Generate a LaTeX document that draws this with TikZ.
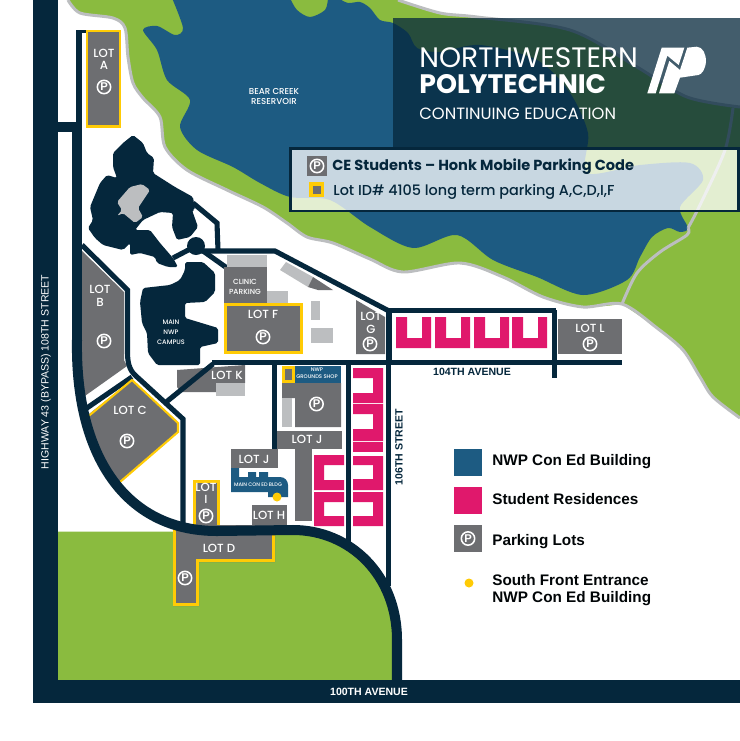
\documentclass[tikz,border=0pt]{standalone}
\usepackage{fontspec}
\setmainfont{Liberation Sans}
\newfontfamily\popfont{Poppins}
\newfontfamily\popmed{Poppins Medium}
\definecolor{navy}{HTML}{05273C}
\definecolor{lake}{HTML}{1D5B82}
\definecolor{grass}{HTML}{8ABB3F}
\definecolor{lotgrey}{HTML}{6D6E71}
\definecolor{pale}{HTML}{BCBEC0}
\definecolor{gold}{HTML}{FFCB05}
\definecolor{resi}{HTML}{E0186C}
\tikzset{
  lot/.style={fill=lotgrey},
  goldlot/.style={fill=lotgrey,draw=gold,line width=1.7pt},
  softlot/.style={fill=pale},
  shoreroad/.style={draw=pale,line width=1.7pt},
  mainroad/.style={draw=navy,line width=5.7pt},
  siteroad/.style={draw=navy,line width=2.9pt},
  hall/.style={fill=navy,rounded corners=1pt},
  lotlabel/.style={text=white,inner sep=0pt,align=center,font=\popmed\fontsize{6.7}{7}\selectfont},
  tinylabel/.style={text=white,inner sep=0pt,align=center,font=\popmed\fontsize{3.7}{5.6}\selectfont},
  streetlabel/.style={inner sep=0pt,font=\fontsize{6}{7}\selectfont},
  keylabel/.style={anchor=base west,inner sep=0pt,text=black!88!navy,font=\bfseries\fontsize{8.7}{10}\selectfont},
  parkmark/.style={circle,draw=white,line width=.9pt,text=white,minimum size=7.6pt,inner sep=0pt,font=\bfseries\fontsize{6.4}{6}\selectfont},
}
\begin{document}
\begin{tikzpicture}[x=0.02cm,y=-0.02cm]
      \useasboundingbox (0,0) rectangle (740,741);
      \fill[white] (0,0) rectangle (740,741);
      \fill[grass] plot[smooth] coordinates {(68,0) (80,13) (113,18) (125,28) (128,57) (133,83) (143,98) (160,117) (165,147) (187,170) (227,190) (263,207) (287,223) (307,237) (333,243) (370,259) (403,272) (460,263) (503,277) (543,297) (583,307) (622,304)} -- plot[smooth] coordinates {(622,304) (657,328) (683,350) (700,377) (713,397) (740,418)} -- (740,107) -- plot[smooth] coordinates {(740,107) (687,97) (637,67) (570,30) (477,17) (440,13) (398,0)} -- cycle;
      \fill[lake] plot[smooth] coordinates {(172,-2) (183,28) (175,35) (157,26) (143,30) (157,50) (167,80) (190,100) (180,127) (197,150) (233,167) (260,183) (290,197) (330,200) (370,227) (413,248) (457,235) (493,260) (537,277) (583,295) (627,280) (640,257) (652,237) (668,228) (680,232) (688,228) (680,207) (703,180) (690,163) (640,165) (587,173) (588,133) (570,93) (537,60) (480,45) (440,52) (417,48) (408,33) (393,23) (380,20) (370,8) (360,2) (348,3) (338,-2)} -- (328,-2) -- plot[smooth] coordinates {(328,-2) (325,10) (310,17) (297,10) (290,-2)} -- cycle;
      \draw[shoreroad] plot[smooth] coordinates {(68,0) (80,13) (113,18) (125,28) (128,57) (133,83) (143,98) (160,117) (165,147) (187,170) (227,190) (263,207) (287,223) (307,237) (333,243) (370,259) (403,272) (460,263) (503,277) (543,297) (583,307) (622,304) (657,328) (683,350) (700,377) (713,397) (740,418)};
      \draw[shoreroad] plot[smooth] coordinates {(622,304) (637,273) (660,252) (687,235) (688,228)};
      \draw[shoreroad] plot[smooth] coordinates {(688,228) (700,205) (725,150) (733,108)};
      \draw[shoreroad] plot[smooth] coordinates {(398,0) (440,13) (477,17) (570,30) (637,67) (687,97) (740,107)};
      \fill[grass] (58,531.5) -- (180,531.5) -- (293,531) .. controls (350,531) and (397,575) .. (397,640) -- (397,680) -- (58,680) -- cycle;
      \fill[navy] (33,0) rectangle (58,703);
      \fill[navy] (33,680) rectangle (740,703);
      \fill[navy] (58,122) rectangle (76,132);
      \fill[navy] (72,132) rectangle (82,345);
      \fill[navy] (76,31) rectangle (82,132);
      \fill[navy] (76,29.5) rectangle (88,33);
      \fill[lot] (82,251) -- (124,292) -- (124,360) -- (127,366) -- (82,398) -- cycle;
      \draw[siteroad] (82,245) -- (127.5,290) -- (127.5,352) .. controls (127.5,362) and (129,370) .. (136,376) -- (183,419) -- (183,526);
      \draw[siteroad] (84,410) -- (132,377);
      \draw[goldlot] (87,31) rectangle (120,126.5);
      \fill[lot] (84,418) -- (132,380) -- (178,423) -- (178,432) -- (119,483) -- (95,455) -- cycle;
      \draw[gold,line width=1.2pt] (85,419) -- (132,380) -- (178,423) -- (178,432) -- (120,482);
      \fill[lot] (177,370) -- (245,365) -- (245,383) -- (216,383) -- (216,392) -- (181,392) -- (177,387) -- cycle;
      \fill[softlot] (216,383) rectangle (245,396);
      \draw[siteroad] (165,403) -- (213,364);
      \draw[goldlot] (194.5,481.5) rectangle (218.5,528);
      \fill[lot] (173,525) -- (275,525) -- (275,562) -- (199,562) -- (199,606) -- (173,606) -- cycle;
      \draw[gold,line width=1.7pt] (174.5,525) -- (174.5,604.5) -- (197.5,604.5) -- (197.5,560.5) -- (273.5,560.5) -- (273.5,530);
      \fill[lot] (252,505) rectangle (287,527);
      \draw[mainroad] (77,340) .. controls (75,455) and (125,531) .. (217,531) -- (293,530) .. controls (350,530) and (397,575) .. (397,640) -- (397,682);
      \draw[siteroad] (212,362.5) -- (622,362.5);
      \draw[siteroad] (389,310.5) -- (389,362);
      \draw[siteroad] (387.5,310.5) -- (556,310.5);
      \draw[siteroad] (554.5,310) -- (554.5,378);
      \draw[siteroad] (274.5,362) -- (274.5,449);
      \draw[siteroad] (348.5,362) -- (348.5,545);
      \draw[siteroad] (388.5,362) -- (388.5,586);
      \draw[siteroad] (196,251) -- (275,251) -- (389,311);
      \draw[siteroad] (173,258) -- (196,246) -- (227,268);
      \draw[siteroad] (193,203) -- (217,223) -- (218,250);
      \fill[navy] (196,246) circle (9);
      \fill[hall] (133,135) -- (143,143) -- (147,153) -- (154,158) -- (153,173) -- (175,187) -- (193,197) -- (195,210) -- (192,210) -- (198,227) -- (190,237) -- (177,240) -- (172,227) -- (173,213) -- (160,212) -- (143,220) -- (135,230) -- (150,230) -- (160,243) -- (173,258) -- (178,267) -- (168,267) -- (157,263) -- (155,257) -- (140,253) -- (130,255) -- (130,243) -- (123,250) -- (103,245) -- (95,238) -- (88,228) -- (93,220) -- (90,207) -- (100,183) -- (107,175) -- (117,178) -- (113,167) -- (113,153) -- (123,143) -- cycle;
      \fill[pale,rounded corners=1pt] (117,202) -- (130,187) -- (142,184) -- (150,190) -- (138,208) -- (143,217) -- (135,223) -- (123,213) -- (117,216) -- (122,210) -- cycle;
      \fill[hall] (185,262) -- (203,262) -- (215,273) -- (215,292) -- (205,302) -- (185,303) -- (185,318) -- (218,328) -- (218,343) -- (200,347) -- (200,365) -- (157,365) -- (148,353) -- (147,333) -- (142,323) -- (140,302) -- (143,288) -- (170,285) -- (180,280) -- (185,270) -- cycle;
      \fill[softlot] (227,255) rectangle (267,267);
      \fill[lot] (224,267) rectangle (267,303);
      \fill[softlot] (267,291) rectangle (288,303);
      \fill[softlot] (311,301) rectangle (320,320);
      \fill[softlot] (311,328) rectangle (333,343);
      \fill[softlot] (280,270) -- (286,262) -- (313,277) -- (308,287) -- cycle;
      \fill[lotgrey] (308,287) -- (313,277) -- (333,290) -- (318,290) -- cycle;
      \draw[goldlot] (225.5,304.5) rectangle (301.5,352.5);
      \fill[lot] (356,300) -- (385,317) -- (385,354) -- (356,354) -- cycle;
      \fill[lot] (558,319) rectangle (622,354);
      \foreach \ux in {396,435,474,512} {
        \fill[resi] (\ux,317) -- (\ux+11,317) -- (\ux+11,338) -- (\ux+26,338) -- (\ux+26,317) -- (\ux+35,317) -- (\ux+35,348) -- (\ux,348) -- cycle;
      }
      \foreach \ty/\by/\ny/\my in {368/403/378/393,404/441/414/429,456/490/465/479,492/526/502/516} {
        \fill[resi] (353,\ty) -- (383,\ty) -- (383,\by) -- (353,\by) -- (353,\my) -- (373,\my) -- (373,\ny) -- (353,\ny) -- cycle;
      }
      \fill[resi] (353,442) rectangle (383,452);
      \foreach \ty/\by/\ny/\my in {455/490/465/480,492/526/502/516} {
        \fill[resi] (344,\ty) -- (314,\ty) -- (314,\by) -- (344,\by) -- (344,\my) -- (324,\my) -- (324,\ny) -- (344,\ny) -- cycle;
      }
      \fill[lake] (282,366) rectangle (341,383);
      \fill[gold] (282,366) rectangle (295,383);
      \fill[lotgrey] (285,369) rectangle (292,380);
      \fill[lot] (282,383) -- (341,383) -- (341,427) -- (295,427) -- (295,398) -- (282,398) -- cycle;
      \fill[softlot] (282,398) rectangle (292,427);
      \fill[lot] (277,431) rectangle (342,449);
      \fill[lot] (295,449) rectangle (312,521);
      \fill[lot] (231,449) rectangle (278,468);
      \fill[lake] (231,468) -- (239,468) -- (239,477) -- (248,477) -- (248,472) -- (256,472) -- (256,477) -- (259,477) -- (259,472) -- (268,472) -- (268,477) -- (280,477) .. controls (285,477) and (288,481) .. (288,485) -- (288,497) -- (268,497) -- (268,492) -- (231,492) -- cycle;
      \fill[gold] (277,497) circle (4.5);
      \fill[navy,opacity=.75] (393,18) rectangle (740,147);
      \draw[navy,fill=white,fill opacity=.76,line width=1.7pt] (290.5,148.5) rectangle (738.5,211);
      \fill[white] (661.7,47.7) -- (684.3,47.7) -- (678.7,65) -- (667.3,55.7) -- (655.7,93.3) -- (647.3,93.3) -- cycle;
      \fill[white] (659,93.3) -- (669.3,61) -- (680,70) -- (687.3,47.7) -- (696.7,46.7) .. controls (703,47) and (706,54) .. (706,61.7) .. controls (705,70) and (702,74) .. (698.3,75) -- (680,77.7) -- (674.3,93.3) -- cycle;
      \node[anchor=base west,inner sep=0pt,text=white,font=\popfont\fontsize{16}{18}\selectfont] (nwname) at (419,67) {NORTHWESTERN};
      \node[anchor=base west,inner sep=0pt,text=white,font=\popfont\bfseries\fontsize{15.2}{18}\selectfont] (polyname) at (419,93) {POLYTECHNIC};
      \node[anchor=base west,inner sep=0pt,text=white,font=\popfont\fontsize{9.3}{11}\selectfont] (cename) at (419,119) {CONTINUING EDUCATION};
      \fill[lot] (307,156) rectangle (327,176);
      \node[parkmark] (boxp) at (317,166) {P};
      \fill[gold] (309,182) rectangle (324,197);
      \fill[lotgrey] (312.5,185.5) rectangle (320.5,193.5);
      \node[anchor=base west,inner sep=0pt,text=navy,font=\popfont\bfseries\fontsize{8.3}{10}\selectfont] (honkcode) at (332,170) {CE Students – Honk Mobile Parking Code};
      \node[anchor=base west,inner sep=0pt,text=navy,font=\popmed\fontsize{8.2}{10}\selectfont] (lotid) at (333,195) {Lot ID\# 4105 long term parking A,C,D,I,F};
      \node[tinylabel,font=\popmed\fontsize{4.9}{5.6}\selectfont] (reservoir) at (274,96.5) {BEAR CREEK\\RESERVOIR};
      \node[tinylabel] (campus) at (171,332) {MAIN\\NWP\\CAMPUS};
      \node[tinylabel,font=\popmed\fontsize{4.2}{5.6}\selectfont] (clinic) at (245,287) {CLINIC\\PARKING};
      \node[tinylabel,font=\popmed\fontsize{3}{4}\selectfont] (shop) at (317,373.5) {NWP\\GROUNDS SHOP};
      \node[tinylabel,font=\popmed\fontsize{2.9}{3.6}\selectfont] (conedblg) at (258,485) {MAIN CON ED BLDG};
      \node[lotlabel] (lota) at (104,59.5) {LOT\\A};
      \node[parkmark] (pa) at (104,87) {P};
      \node[lotlabel] (lotb) at (100,296) {LOT\\B};
      \node[parkmark] (pb) at (104,341) {P};
      \node[lotlabel] (lotc) at (130,410) {LOT C};
      \node[parkmark] (pc) at (127,441) {P};
      \node[lotlabel] (lotd) at (219,548) {LOT D};
      \node[parkmark] (pd) at (185,578) {P};
      \node[lotlabel] (lotf) at (263,314) {LOT F};
      \node[parkmark] (pf) at (263,337) {P};
      \node[lotlabel] (lotg) at (371,323) {LOT\\G};
      \node[parkmark] (pg) at (370,344) {P};
      \node[lotlabel] (lotl) at (590,328) {LOT L};
      \node[parkmark] (pl) at (590,344) {P};
      \node[lotlabel] (loti) at (206,493.5) {LOT\\I};
      \node[parkmark] (pi) at (206,516) {P};
      \node[lotlabel] (lotk) at (227,375) {LOT K};
      \node[lotlabel] (lotjup) at (307,439) {LOT J};
      \node[lotlabel] (lotjlow) at (254,459) {LOT J};
      \node[lotlabel] (loth) at (269,515) {LOT H};
      \node[parkmark] (pshop) at (316.5,404) {P};
      \node[streetlabel,text=white,rotate=90,font=\fontsize{6}{7}\selectfont] (highway) at (46,372) {HIGHWAY 43 (BYPASS) 108TH STREET};
      \node[streetlabel,text=white,font=\bfseries\fontsize{6}{7}\selectfont] (ave100) at (369,692) {100TH AVENUE};
      \node[streetlabel,text=navy,font=\bfseries\fontsize{6}{7}\selectfont] (ave104) at (472,372) {104TH AVENUE};
      \node[streetlabel,text=navy,rotate=90,font=\bfseries\fontsize{6}{7}\selectfont] (st106) at (399,447) {106TH STREET};
      \fill[lake] (454,449) rectangle (482,476);
      \fill[resi] (454,487) rectangle (482,514);
      \fill[lot] (454,525) rectangle (482,552);
      \node[parkmark] (keyp) at (468,538.5) {P};
      \fill[gold] (469,583) circle (4.5);
      \node[keylabel] (keybldg) at (492,465) {NWP Con Ed Building};
      \node[keylabel] (keyresi) at (492,504) {Student Residences};
      \node[keylabel] (keypark) at (492,545) {Parking Lots};
      \node[keylabel] (keydoor) at (492,585) {South Front Entrance};
      \node[keylabel] (keydoorb) at (492,602) {NWP Con Ed Building};
\end{tikzpicture}
\end{document}
